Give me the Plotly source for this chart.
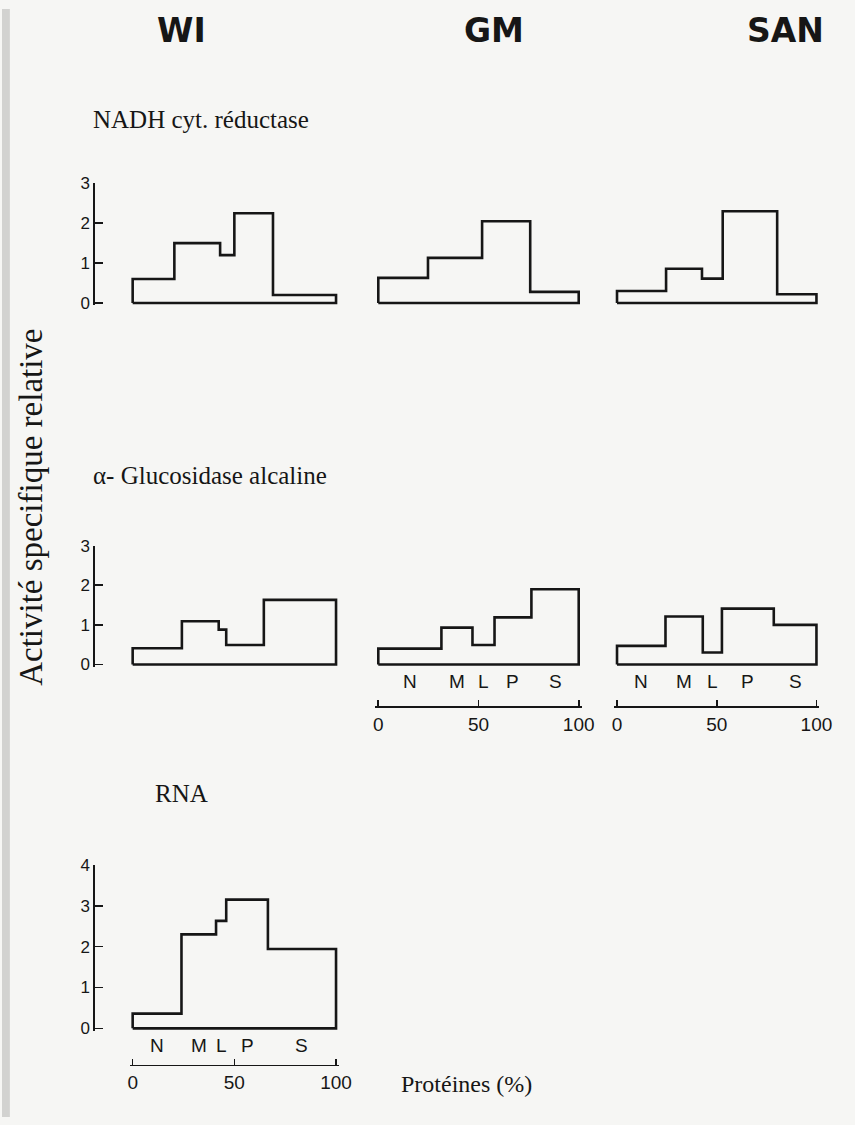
import plotly.graph_objects as go

# ---------------- data ----------------
fractions = ["N", "M", "L", "P", "S"]
columns = ["WI", "GM", "SAN"]
enzymes = ["NADH cyt. réductase", "α- Glucosidase alcaline", "RNA"]

# cumulative protein (%) boundaries of the fractions N, M, L, P, S
# and relative specific activity of each fraction
nadh_wi_edges = [0, 20.5, 43, 50, 69, 100]
nadh_wi_rsa = [0.6, 1.5, 1.2, 2.25, 0.2]
nadh_gm_edges = [0, 24.8, 44, 51.8, 75.8, 100]
nadh_gm_rsa = [0.63, 1.13, 1.13, 2.05, 0.28]
nadh_san_edges = [0, 24.6, 42.6, 53, 80.3, 100]
nadh_san_rsa = [0.3, 0.86, 0.61, 2.3, 0.22]

gluc_wi_edges = [0, 24.2, 42.3, 46, 64.5, 100]
gluc_wi_rsa = [0.41, 1.09, 0.88, 0.49, 1.63]
gluc_gm_edges = [0, 31.5, 47, 58, 76.4, 100]
gluc_gm_rsa = [0.4, 0.93, 0.49, 1.19, 1.9]
gluc_san_edges = [0, 24.3, 43, 52.6, 78.6, 100]
gluc_san_rsa = [0.47, 1.21, 0.3, 1.41, 1.0]

rna_wi_edges = [0, 24, 41, 46, 66.5, 100]
rna_wi_rsa = [0.36, 2.3, 2.63, 3.15, 1.94]

y_ticks_3 = [0, 1, 2, 3]
y_ticks_4 = [0, 1, 2, 3, 4]
x_ticks = [0, 50, 100]
x_title = "Protéines (%)"
y_title = "Activité specifique relative"

# ---------------- layout helpers ----------------
W, H = 855, 1125
INK = "#161616"
SANS = "Liberation Sans, Arial, sans-serif"
SERIF = "Liberation Serif, Times New Roman, serif"


def fx(px):
    return px / W


def fy(py):
    return 1 - py / H


def outline(edges, h):
    xs = [edges[0]]
    ys = [0]
    for i, v in enumerate(h):
        xs += [edges[i], edges[i + 1]]
        ys += [v, v]
    xs += [edges[-1], edges[0]]
    ys += [0, 0]
    return xs, ys


# column pixel extents (0% .. 100%)
col_px = {"WI": (133, 340), "GM": (383, 587), "SAN": (626, 829)}
# row geometry: pixel of value 0, pixels per unit, y max
row_geo = {
    0: (298.5, 40.5, 3),
    1: (665.5, 40.2, 3),
    2: (1035.0, 41.5, 4),
}

panels = [
    # (row, column, edges, values, show y axis, show x axis, x axis line px)
    (0, "WI", nadh_wi_edges, nadh_wi_rsa, True, False, None),
    (0, "GM", nadh_gm_edges, nadh_gm_rsa, False, False, None),
    (0, "SAN", nadh_san_edges, nadh_san_rsa, False, False, None),
    (1, "WI", gluc_wi_edges, gluc_wi_rsa, True, False, None),
    (1, "GM", gluc_gm_edges, gluc_gm_rsa, False, True, 708),
    (1, "SAN", gluc_san_edges, gluc_san_rsa, False, True, 708),
    (2, "WI", rna_wi_edges, rna_wi_rsa, True, True, 1072),
]

fig = go.Figure()
layout = dict(
    width=W, height=H, autosize=False,
    margin=dict(l=0, r=0, t=0, b=0),
    paper_bgcolor="#f6f6f4", plot_bgcolor="rgba(0,0,0,0)",
    showlegend=False,
)
annotations = []

XPAD = 1.5
YPAD = 0.06

for k, (row, col, edges, vals, show_y, show_x, xline) in enumerate(panels, start=1):
    xname = "x" if k == 1 else f"x{k}"
    yname = "y" if k == 1 else f"y{k}"
    xs, ys = outline(edges, vals)
    fig.add_trace(go.Scatter(
        x=xs, y=ys, mode="lines", xaxis=xname, yaxis=yname,
        line=dict(color=INK, width=2.6), hoverinfo="skip",
    ))
    x0, x1 = col_px[col]
    ppx = (x1 - x0) / 100
    y0px, ppu, ymax = row_geo[row]
    xd = [fx(x0 - XPAD * ppx), fx(x1 + XPAD * ppx)]
    yd = [fy(y0px + YPAD * ppu), fy(y0px - ymax * ppu)]

    xa = dict(domain=xd, range=[-XPAD, 100 + XPAD], showgrid=False,
              zeroline=False, fixedrange=True)
    if show_x:
        xa.update(visible=True, anchor="free", position=fy(xline),
                  showline=True, linecolor=INK, linewidth=1.6,
                  ticks="inside", ticklen=6, tickwidth=1.6, tickcolor=INK,
                  tickvals=x_ticks, ticktext=[str(t) for t in x_ticks],
                  tickfont=dict(family=SANS, size=19, color=INK))
        # fraction letters centred on each fraction
        for i, name in enumerate(fractions):
            annotations.append(dict(
                x=(edges[i] + edges[i + 1]) / 2, xref=xname,
                y=fy(y0px + 17), yref="paper",
                text=name, showarrow=False, xanchor="center", yanchor="middle",
                font=dict(family=SANS, size=19, color=INK),
            ))
    else:
        xa.update(visible=False, anchor=yname)

    ya = dict(domain=yd, range=[-YPAD, ymax], showgrid=False,
              zeroline=False, fixedrange=True)
    if show_y:
        yt = y_ticks_4 if ymax == 4 else y_ticks_3
        ya.update(visible=True, anchor="free", position=fx(93),
                  showline=True, linecolor=INK, linewidth=1.6,
                  ticks="inside", ticklen=8, tickwidth=1.6, tickcolor=INK,
                  tickvals=yt, ticktext=[str(t) for t in yt],
                  tickfont=dict(family=SANS, size=17, color=INK))
    else:
        ya.update(visible=False, anchor=xname)

    layout["xaxis" if k == 1 else f"xaxis{k}"] = xa
    layout["yaxis" if k == 1 else f"yaxis{k}"] = ya

# column headers
for name, cx in zip(columns, [183, 501, 797]):
    annotations.append(dict(
        x=fx(cx), y=fy(22), xref="paper", yref="paper", text=f"<b>{name}</b>",
        showarrow=False, xanchor="center", yanchor="middle",
        font=dict(family="DejaVu Sans, sans-serif", size=33, color=INK),
    ))

# enzyme titles
for name, (tx, ty) in zip(enzymes, [(91, 112), (91, 474), (154, 797)]):
    annotations.append(dict(
        x=fx(tx), y=fy(ty), xref="paper", yref="paper", text=name,
        showarrow=False, xanchor="left", yanchor="middle",
        font=dict(family=SERIF, size=25, color=INK),
    ))

# axis titles
annotations.append(dict(
    x=fx(30), y=fy(506), xref="paper", yref="paper", text=y_title,
    textangle=-90, showarrow=False, xanchor="center", yanchor="middle",
    font=dict(family=SERIF, size=33, color=INK),
))
annotations.append(dict(
    x=fx(473), y=fy(1091), xref="paper", yref="paper", text=x_title,
    showarrow=False, xanchor="center", yanchor="middle",
    font=dict(family=SERIF, size=24, color=INK),
))

layout["annotations"] = annotations
layout["shapes"] = [dict(type="rect", xref="paper", yref="paper",
                         x0=0, x1=fx(8), y0=0, y1=1,
                         fillcolor="#d2d2d0", line=dict(width=0), layer="below")]
fig.update_layout(**layout)
fig.write_html(
    "out.html",
    config={"displayModeBar": False, "staticPlot": True},
    post_script="document.body.style.margin='0';document.body.style.overflow='hidden';",
)
